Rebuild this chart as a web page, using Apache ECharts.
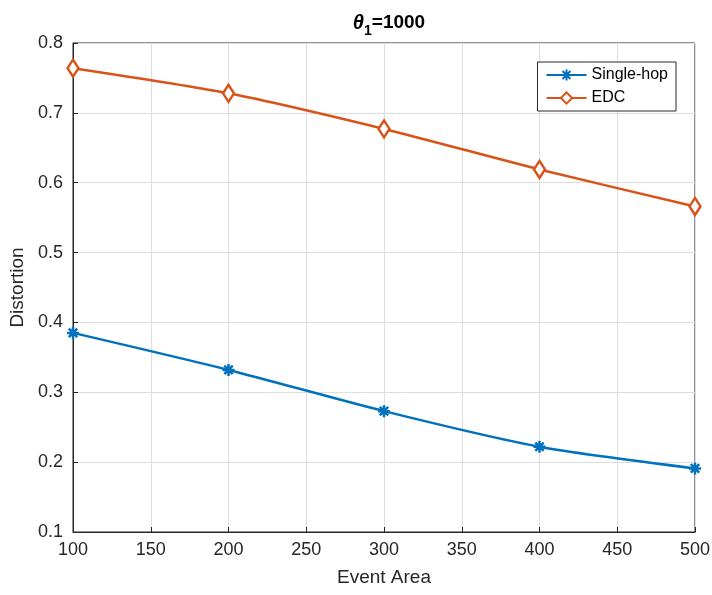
<!DOCTYPE html>
<html><head><meta charset="utf-8">
<script src="https://cdn.jsdelivr.net/npm/echarts@6/dist/echarts.min.js"></script>
<style>html,body{margin:0;padding:0;background:#fff}#c{width:712px;height:595px}</style>
</head><body><div id="c"></div>
<script>
var xValues = [100, 200, 300, 400, 500];
var singleHop = [0.385, 0.332, 0.273, 0.222, 0.191];
var edc = [0.764, 0.728, 0.677, 0.619, 0.566];
var seriesNames = ['Single-hop', 'EDC'];

var chart = echarts.init(document.getElementById('c'));
var star = 'path://M0,-10L0,10M-10,0L10,0M-7,-7L7,7M-7,7L7,-7';
function pairs(v){ return xValues.map(function(x,i){return [x, v[i]];}); }
var axisCol = '#262626';
var ff = 'Liberation Sans, Arial';
chart.setOption({
  animation: false,
  title: {
    text: '{t|θ}{s|1}{n|=1000}',
    left: 384, top: 3, textAlign: 'center',
    textStyle: {
      rich: {
        t: {fontFamily: ff, fontStyle: 'italic', fontWeight: 'bold', fontSize: 20, color: '#000'},
        s: {fontFamily: ff, fontWeight: 'bold', fontSize: 14, color: '#000', padding: [16,0,0,0]},
        n: {fontFamily: ff, fontWeight: 'bold', fontSize: 19, color: '#000'}
      }
    }
  },
  grid: {left: 73, right: 17, top: 43, bottom: 63, show: true, borderColor: axisCol, borderWidth: 1,
         containLabel: false, outerBoundsMode: 'none'},
  legend: {
    data: seriesNames,
    orient: 'vertical',
    right: 36, top: 62,
    backgroundColor: '#fff',
    borderColor: axisCol, borderWidth: 1,
    padding: [5, 8, 5, 8],
    itemGap: 7,
    itemWidth: 40, itemHeight: 14,
    textStyle: {fontFamily: ff, fontSize: 16, color: '#000'}
  },
  xAxis: {
    type: 'value', min: 100, max: 500, interval: 50,
    name: 'Event Area', nameLocation: 'middle', nameGap: 36,
    nameTextStyle: {fontFamily: ff, fontSize: 19, color: axisCol},
    axisLine: {lineStyle: {color: axisCol}},
    axisTick: {inside: true, length: 5, lineStyle: {color: axisCol}},
    axisLabel: {fontFamily: ff, fontSize: 18, color: axisCol, margin: 9},
    splitLine: {lineStyle: {color: '#dedede'}}
  },
  yAxis: {
    type: 'value', min: 0.1, max: 0.8, interval: 0.1,
    name: 'Distortion', nameLocation: 'middle', nameGap: 44,
    nameTextStyle: {fontFamily: ff, fontSize: 19, color: axisCol},
    axisLine: {show: true, lineStyle: {color: axisCol}},
    axisTick: {show: true, inside: true, length: 5, lineStyle: {color: axisCol}},
    axisLabel: {fontFamily: ff, fontSize: 18, color: axisCol, margin: 10,
      formatter: function(v){ return (Math.round(v*10)/10).toFixed(1); }},
    splitLine: {lineStyle: {color: '#dedede'}}
  },
  series: [
    {
      name: seriesNames[0], type: 'line', data: pairs(singleHop), smooth: 0.25,
      symbol: star, symbolSize: 12,
      lineStyle: {color: '#0072BD', width: 2.5},
      itemStyle: {color: '#0072BD', borderColor: '#0072BD', borderWidth: 2.5}
    },
    {
      name: seriesNames[1], type: 'line', data: pairs(edc), smooth: 0.25,
      symbol: 'diamond', symbolSize: [11, 17], showAllSymbol: true,
      lineStyle: {color: '#D95319', width: 2.5},
      itemStyle: {color: '#fff', borderColor: '#D95319', borderWidth: 2.5}
    }
  ]
});
</script></body></html>
